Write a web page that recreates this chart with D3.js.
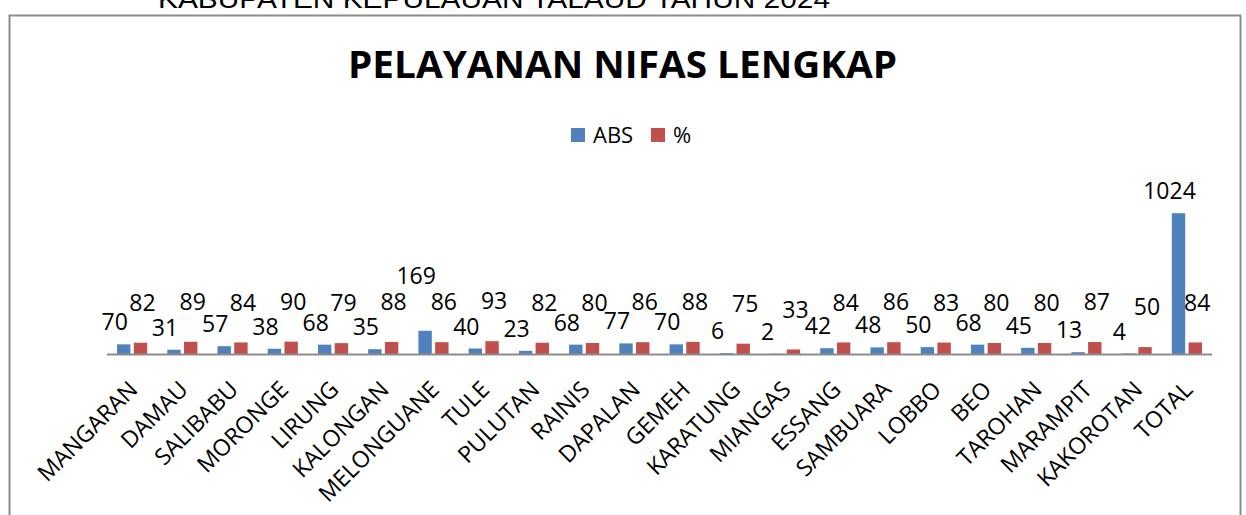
<!DOCTYPE html>
<html>
<head>
<meta charset="utf-8">
<script src="https://cdn.jsdelivr.net/npm/d3@7"></script>
<style>
  body { margin: 0; background: #fff; }
  svg { display: block; font-family: "Open Sans", sans-serif; }
</style>
</head>
<body>
<svg id="chart" width="1246" height="515"></svg>
<script>
const categories = ['MANGARAN', 'DAMAU', 'SALIBABU', 'MORONGE', 'LIRUNG', 'KALONGAN', 'MELONGUANE',
  'TULE', 'PULUTAN', 'RAINIS', 'DAPALAN', 'GEMEH', 'KARATUNG', 'MIANGAS', 'ESSANG', 'SAMBUARA',
  'LOBBO', 'BEO', 'TAROHAN', 'MARAMPIT', 'KAKOROTAN', 'TOTAL']
const absValues = [70, 31, 57, 38, 68, 35, 169, 40, 23, 68, 77, 70, 6, 2, 42, 48, 50, 68, 45, 13, 4, 1024]
const pctValues = [82, 89, 84, 90, 79, 88, 86, 93, 82, 80, 86, 88, 75, 33, 84, 86, 83, 80, 80, 87, 50, 84]
const seriesNames = ['ABS', '%']
const seriesColors = ['#4F81BD', '#C0504D']

const svg = d3.select('#chart')

// cut-off heading above the chart frame
svg.append('text')
  .attr('x', 158).attr('y', 8)
  .attr('textLength', 672).attr('lengthAdjust', 'spacingAndGlyphs')
  .style('font-family', '"Liberation Sans", Arial, sans-serif')
  .style('font-size', '26px')
  .text('KABUPATEN KEPULAUAN TALAUD TAHUN 2024')

// chart frame
svg.append('rect')
  .attr('x', 9.5).attr('y', 15.5)
  .attr('width', 1231).attr('height', 520)
  .attr('fill', '#fff')
  .attr('stroke', '#8c8c8c')
  .attr('stroke-width', 2)

svg.append('text')
  .attr('x', 348).attr('y', 78)
  .attr('textLength', 549).attr('lengthAdjust', 'spacingAndGlyphs')
  .style('font-size', '38px').style('font-weight', 700)
  .text('PELAYANAN NIFAS LENGKAP')

// legend
const legend = svg.append('g')
const legendX = [571, 651]
seriesNames.forEach((name, i) => {
  legend.append('rect')
    .attr('x', legendX[i]).attr('y', 128)
    .attr('width', 14).attr('height', 14)
    .attr('fill', seriesColors[i])
  legend.append('text')
    .attr('x', legendX[i] + 22).attr('y', 143)
    .style('font-size', '22px')
    .text(name)
})

const x = d3.scaleBand()
  .domain(categories)
  .range([107, 1212])

const bw = x.bandwidth()
const xs = d3.scaleBand()
  .domain(seriesNames)
  .range([bw * 0.2, bw * 0.8])
  .paddingInner(0.2)

const y = d3.scaleLinear()
  .domain([0, 1200])
  .range([354, 189])

const rows = categories.map((c, i) => ({ cat: c, vals: [absValues[i], pctValues[i]] }))

const groups = svg.selectAll('g.cat')
  .data(rows)
  .enter().append('g')
  .attr('class', 'cat')
  .attr('transform', (d) => `translate(${x(d.cat)},0)`)

groups.selectAll('rect.bar')
  .data((d) => d.vals.map((v, i) => ({ name: seriesNames[i], value: v, i: i })))
  .enter().append('rect')
  .attr('class', 'bar')
  .attr('x', (d) => xs(d.name))
  .attr('y', (d) => y(d.value))
  .attr('width', xs.bandwidth())
  .attr('height', (d) => y(0) - y(d.value))
  .attr('fill', (d) => seriesColors[d.i])

// data labels: sit above the bars, pushed up when they really hit the previous one
const labels = []
rows.forEach((r) => {
  r.vals.forEach((v, i) => {
    labels.push({
      value: v,
      cx: x(r.cat) + xs(seriesNames[i]) + xs.bandwidth() / 2 + (i === 0 ? -9 : 2),
      cy: y(v) - (i === 0 ? 22 : 40),
      w: String(v).length * 13
    })
  })
})
labels.forEach((l, k) => {
  if (k === 0) return
  const p = labels[k - 1]
  const hitX = Math.abs(l.cx - p.cx) < (l.w + p.w) / 2 - 2
  const hitY = Math.abs(l.cy - p.cy) < 16
  if (hitX && hitY) l.cy = p.cy - 26
})

svg.selectAll('text.lbl')
  .data(labels)
  .enter().append('text')
  .attr('class', 'lbl')
  .attr('x', (d) => d.cx)
  .attr('y', (d) => d.cy)
  .attr('dy', '0.35em')
  .attr('text-anchor', 'middle')
  .style('font-size', '23px')
  .text((d) => d.value)

// axis line
svg.append('line')
  .attr('x1', 107).attr('x2', 1212)
  .attr('y1', y(0) + 0.5).attr('y2', y(0) + 0.5)
  .attr('stroke', '#8c8c8c')
  .attr('stroke-width', 2)

// rotated category labels
svg.selectAll('text.cat')
  .data(categories)
  .enter().append('text')
  .attr('class', 'cat')
  .attr('text-anchor', 'end')
  .attr('transform', (d) => `translate(${x(d) + bw / 2 + 7},391) rotate(-45)`)
  .style('font-size', '23px')
  .text((d) => d)
</script>
</body>
</html>
